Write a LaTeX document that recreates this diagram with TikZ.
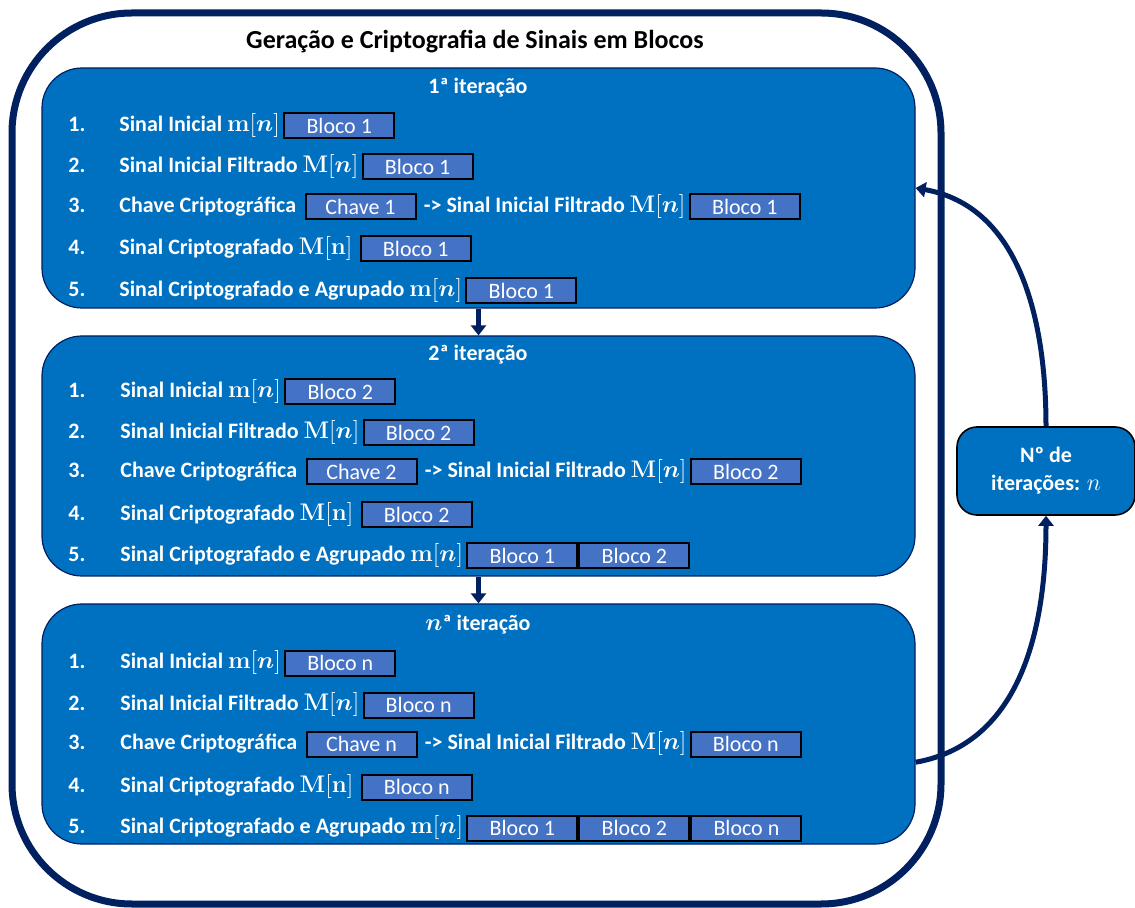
\documentclass[tikz,border=0pt]{standalone}
\usepackage{amsmath}
\usepackage[no-math]{fontspec}
\setmainfont{Carlito}
\usetikzlibrary{arrows.meta, positioning}

\definecolor{boxblue}{HTML}{0070C0}
\definecolor{blocoblue}{HTML}{4472C4}
\definecolor{navy}{HTML}{002060}

% signal in math, a little larger than the text
\newcommand{\sig}[2]{{\fontsize{13}{15}\selectfont$\mathbf{#1}[#2]$}}

\begin{document}
\begin{tikzpicture}[x=0.5pt, y=-0.5pt,
		iter/.style={draw=navy, line width=0.6pt, fill=boxblue, rounded corners=20pt, minimum width=436.5pt, minimum height=120pt},
		hdr/.style={text=white, font=\bfseries\fontsize{11}{13}\selectfont},
		txt/.style={anchor=west, inner sep=0pt, text=white, text height=8pt, text depth=2.5pt, font=\bfseries\fontsize{11}{13}\selectfont},
		bloco/.style={draw=black, line width=1pt, fill=blocoblue, text=white, inner sep=0pt, minimum width=55pt, minimum height=12.5pt, font=\fontsize{11}{13}\selectfont},
		flow/.style={navy, line width=2.5pt, -{Triangle[length=5pt, width=7.5pt]}}
		]
		\useasboundingbox (0,0) rectangle (1135,908);
		
		% Frame
		\draw[navy, line width=3.5pt, rounded corners=60pt] (12,13) rectangle (941,904);
		\node[font=\bfseries\fontsize{13}{15}\selectfont] (title) at (475,42) {Geração e Criptografia de Sinais em Blocos};
		
		% Iterations
		\node[iter] (it1) at (478.5,188) {};
		\node[iter] (it2) at (478.5,456) {};
		\node[iter] (it3) at (478.5,724) {};
		
		% 1st iteration
		\node[hdr] (h1) at (478,88) {1ª iteração};
		\node[txt] (n11) at (68,126) {1.};
		\node[txt] (n12) at (68,167) {2.};
		\node[txt] (n13) at (68,207) {3.};
		\node[txt] (n14) at (68,249) {4.};
		\node[txt] (n15) at (68,291) {5.};
		\node[txt] (t11) at (119,126) {Sinal Inicial \sig{m}{\boldsymbol{n}}};
		\node[txt] (t12) at (119,167) {Sinal Inicial Filtrado \sig{M}{\boldsymbol{n}}};
		\node[txt] (t13) at (119,207) {Chave Criptográfica};
		\node[txt] (t14) at (119,249) {Sinal Criptografado \sig{M}{\mathbf{n}}};
		\node[txt] (t15) at (119,291) {Sinal Criptografado e Agrupado \sig{m}{\boldsymbol{n}}};
		\node[bloco, right=1.5pt of t11] (b11) {Bloco 1};
		\node[bloco, right=1.5pt of t12] (b12) {Bloco 1};
		\node[bloco, right=4pt of t13] (c1) {Chave 1};
		\node[txt, right=3.5pt of c1] (t13b) {-> Sinal Inicial Filtrado \sig{M}{\boldsymbol{n}}};
		\node[bloco, right=1.5pt of t13b] (b13) {Bloco 1};
		\node[bloco, right=3.5pt of t14] (b14) {Bloco 1};
		\node[bloco, right=1.5pt of t15] (b15) {Bloco 1};
		
		% 2nd iteration
		\node[hdr] (h2) at (478,355) {2ª iteração};
		\node[txt] (n21) at (68,392) {1.};
		\node[txt] (n22) at (68,433) {2.};
		\node[txt] (n23) at (68,472) {3.};
		\node[txt] (n24) at (68,515) {4.};
		\node[txt] (n25) at (68,556) {5.};
		\node[txt] (t21) at (120,392) {Sinal Inicial \sig{m}{\boldsymbol{n}}};
		\node[txt] (t22) at (120,433) {Sinal Inicial Filtrado \sig{M}{\boldsymbol{n}}};
		\node[txt] (t23) at (120,472) {Chave Criptográfica};
		\node[txt] (t24) at (120,515) {Sinal Criptografado \sig{M}{\mathbf{n}}};
		\node[txt] (t25) at (120,556) {Sinal Criptografado e Agrupado \sig{m}{\boldsymbol{n}}};
		\node[bloco, right=1.5pt of t21] (b21) {Bloco 2};
		\node[bloco, right=1.5pt of t22] (b22) {Bloco 2};
		\node[bloco, right=4pt of t23] (c2) {Chave 2};
		\node[txt, right=3.5pt of c2] (t23b) {-> Sinal Inicial Filtrado \sig{M}{\boldsymbol{n}}};
		\node[bloco, right=1.5pt of t23b] (b23) {Bloco 2};
		\node[bloco, right=3.5pt of t24] (b24) {Bloco 2};
		\node[bloco, right=1.5pt of t25] (b25a) {Bloco 1};
		\node[bloco, right=0pt of b25a] (b25b) {Bloco 2};
		
		% n-th iteration
		\node[hdr] (h3) at (478,625) {{\fontsize{13}{15}\selectfont$\boldsymbol{n}$}ª iteração};
		\node[txt] (n31) at (68,663) {1.};
		\node[txt] (n32) at (68,705) {2.};
		\node[txt] (n33) at (68,744) {3.};
		\node[txt] (n34) at (68,787) {4.};
		\node[txt] (n35) at (68,828) {5.};
		\node[txt] (t31) at (120,663) {Sinal Inicial \sig{m}{\boldsymbol{n}}};
		\node[txt] (t32) at (120,705) {Sinal Inicial Filtrado \sig{M}{\boldsymbol{n}}};
		\node[txt] (t33) at (120,744) {Chave Criptográfica};
		\node[txt] (t34) at (120,787) {Sinal Criptografado \sig{M}{\mathbf{n}}};
		\node[txt] (t35) at (120,828) {Sinal Criptografado e Agrupado \sig{m}{\boldsymbol{n}}};
		\node[bloco, right=1.5pt of t31] (b31) {Bloco n};
		\node[bloco, right=1.5pt of t32] (b32) {Bloco n};
		\node[bloco, right=4pt of t33] (c3) {Chave n};
		\node[txt, right=3.5pt of c3] (t33b) {-> Sinal Inicial Filtrado \sig{M}{\boldsymbol{n}}};
		\node[bloco, right=1.5pt of t33b] (b33) {Bloco n};
		\node[bloco, right=3.5pt of t34] (b34) {Bloco n};
		\node[bloco, right=1.5pt of t35] (b35a) {Bloco 1};
		\node[bloco, right=0pt of b35a] (b35b) {Bloco 2};
		\node[bloco, right=0pt of b35b] (b35c) {Bloco n};
		
		% Counter
		\node[draw=black, line width=0.8pt, fill=boxblue, rounded corners=10pt, minimum width=89pt, minimum height=44pt, align=center, text=white, font=\bfseries\fontsize{11}{14}\selectfont] (iters) at (1046,471) {Nº de\\iterações: {\fontsize{13}{15}\selectfont$n$}};
		
		% Arrows
		\draw[flow] (it1) -- (it2);
		\draw[flow] (it2) -- (it3);
		\draw[flow] (iters.north) to[out=90, in=-10] (it1.east);
		\draw[flow] (it3.-5) to[out=10, in=-90] (iters.south);
		
	\end{tikzpicture}
\end{document}
